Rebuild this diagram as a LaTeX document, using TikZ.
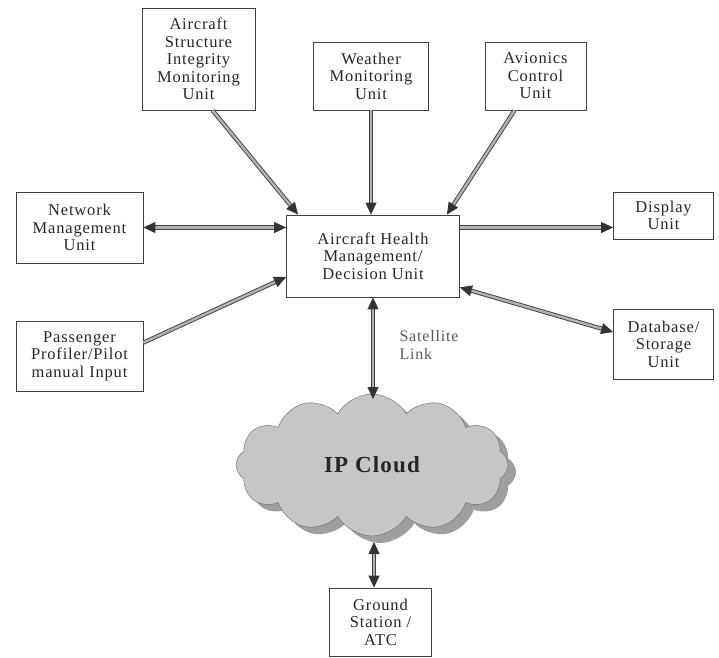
\documentclass[tikz,border=0pt]{standalone}
\usepackage{fontspec}
\setmainfont{Liberation Serif}[LetterSpace=5]
\usepackage{tikz}
\usetikzlibrary{arrows.meta,calc}
\usetikzlibrary{positioning,shapes,shadows}

\begin{document}
\begin{tikzpicture}[x=1pt, y=-1pt, auto,
    unit/.style={draw=black!75, line width=0.8pt, align=center, inner sep=2pt, text=black!85, font=\fontsize{16.5}{17.5}\selectfont},
    link/.style={draw=black!75, double=gray!60, double distance=2.4pt, line width=0.9pt, -{Triangle[length=12pt, width=11pt, color=black!80]}},
    both/.style={link, {Triangle[length=12pt, width=11pt, color=black!80]}-{Triangle[length=12pt, width=11pt, color=black!80]}}]
    \useasboundingbox (0,0) rectangle (719,657);

    % Nodes
    \node[unit, minimum width=173pt, minimum height=82pt] (central) at (373,256) {Aircraft Health\\Management/\\Decision Unit};
    \node[unit, minimum width=113pt, minimum height=102pt] (struct) at (198.5,59) {Aircraft\\Structure\\Integrity\\Monitoring\\Unit};
    \node[unit, minimum width=115pt, minimum height=68pt] (weather) at (371,76) {Weather\\Monitoring\\Unit};
    \node[unit, minimum width=101pt, minimum height=68pt] (avionics) at (535.5,76) {Avionics\\Control\\Unit};
    \node[unit, minimum width=127pt, minimum height=71pt] (network) at (79.5,227.5) {Network\\Management\\Unit};
    \node[unit, minimum width=127pt, minimum height=70pt] (passenger) at (79.5,356) {Passenger\\Profiler/Pilot\\manual Input};
    \node[unit, minimum width=100pt, minimum height=47pt] (display) at (663.5,215.5) {Display\\Unit};
    \node[unit, minimum width=100pt, minimum height=70pt] (database) at (663.5,344) {Database/\\Storage\\Unit};
    \node[unit, minimum width=102pt, minimum height=68pt] (ground) at (380.5,622) {Ground\\Station /\\ATC};
    \node[cloud, cloud puffs=12, cloud puff arc=120, aspect=1.9, draw=black!60, fill=gray!45,
          minimum width=272pt, minimum height=142pt,
          drop shadow={shadow xshift=8pt, shadow yshift=-7pt, fill=gray!75, opacity=1},
          font=\fontsize{23}{26}\selectfont\bfseries, text=black!85] (cloud) at (372,465) {IP Cloud};
    \node[anchor=west, align=left, text=black!65, font=\fontsize{16}{17.5}\selectfont] (sat) at (396,345) {Satellite\\Link};
    \coordinate (cloudtop) at ($(cloud.center)+(1,-66)$);
    \coordinate (cloudbase) at ($(cloud.center)+(2,77)$);

    % Inputs to the decision unit
    \draw[link] ($(struct.south)+(14,0)$) -- ($(central.north west)+(12,0)$);
    \draw[link] (weather.south) -- (weather.south |- central.north);
    \draw[link] ($(avionics.south)+(-21,0)$) -- ($(central.north east)+(-13,0)$);
    \draw[link] ($(passenger.north east)+(0,22)$) -- ($(central.west)+(0,21)$);
    \draw[link] (network.east -| central.east) -- (network.east -| display.west);

    % Two-way links
    \draw[both] (network.east) -- (network.east -| central.west);
    \draw[both] ($(central.south east)+(0,-10)$) -- ($(database.west)+(0,-12)$);
    \draw[both] (central.south) -- (cloudtop);
    \draw[both] (cloudbase) -- (cloudbase |- ground.north);
\end{tikzpicture}
\end{document}
